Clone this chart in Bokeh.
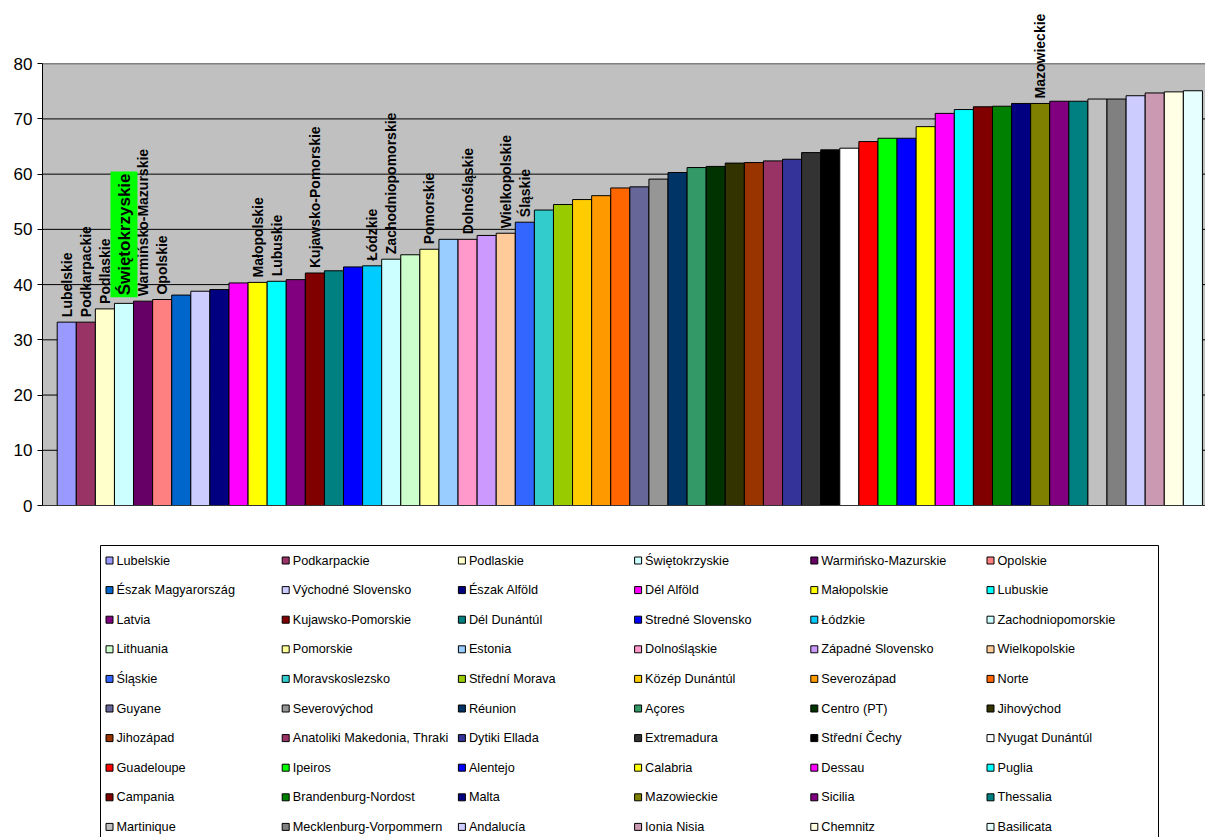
import numpy as np
from bokeh.plotting import figure
from bokeh.models import ColumnDataSource, Range1d, FixedTicker, LabelSet, Label, BoxAnnotation, Span
from bokeh.layouts import column
from bokeh.embed import file_html
from bokeh.resources import INLINE
from bokeh.core.properties import value

regions = [
    "Lubelskie", "Podkarpackie", "Podlaskie", "Świętokrzyskie", "Warmińsko-Mazurskie", "Opolskie",
    "Észak Magyarország", "Východné Slovensko", "Észak Alföld", "Dél Alföld", "Małopolskie", "Lubuskie",
    "Latvia", "Kujawsko-Pomorskie", "Dél Dunántúl", "Stredné Slovensko", "Łódzkie", "Zachodniopomorskie",
    "Lithuania", "Pomorskie", "Estonia", "Dolnośląskie", "Západné Slovensko", "Wielkopolskie",
    "Śląskie", "Moravskoslezsko", "Střední Morava", "Közép Dunántúl", "Severozápad", "Norte",
    "Guyane", "Severovýchod", "Réunion", "Açores", "Centro (PT)", "Jihovýchod",
    "Jihozápad", "Anatoliki Makedonia, Thraki", "Dytiki Ellada", "Extremadura", "Střední Čechy", "Nyugat Dunántúl",
    "Guadeloupe", "Ipeiros", "Alentejo", "Calabria", "Dessau", "Puglia",
    "Campania", "Brandenburg-Nordost", "Malta", "Mazowieckie", "Sicilia", "Thessalia",
    "Martinique", "Mecklenburg-Vorpommern", "Andalucía", "Ionia Nisia", "Chemnitz", "Basilicata",
]

values = [
    33.2, 33.2, 35.6, 36.6, 37.0, 37.3,
    38.1, 38.8, 39.1, 40.3, 40.4, 40.6,
    40.9, 42.1, 42.5, 43.2, 43.4, 44.6,
    45.4, 46.4, 48.2, 48.2, 48.9, 49.3,
    51.3, 53.5, 54.5, 55.4, 56.1, 57.5,
    57.7, 59.1, 60.3, 61.2, 61.4, 62.0,
    62.1, 62.4, 62.7, 63.9, 64.4, 64.7,
    65.9, 66.5, 66.5, 68.6, 71.0, 71.7,
    72.2, 72.3, 72.8, 72.8, 73.2, 73.2,
    73.6, 73.6, 74.2, 74.7, 74.9, 75.1,
]

colors = [
    "#9999FF", "#993366", "#FFFFCC", "#CCFFFF", "#660066", "#FF8080",
    "#0066CC", "#CCCCFF", "#000080", "#FF00FF", "#FFFF00", "#00FFFF",
    "#800080", "#800000", "#008080", "#0000FF", "#00CCFF", "#CCFFFF",
    "#CCFFCC", "#FFFF99", "#99CCFF", "#FF99CC", "#CC99FF", "#FFCC99",
    "#3366FF", "#33CCCC", "#99CC00", "#FFCC00", "#FF9900", "#FF6600",
    "#666699", "#969696", "#003366", "#339966", "#003300", "#333300",
    "#993300", "#993366", "#333399", "#333333", "#000000", "#FFFFFF",
    "#FF0000", "#00FF00", "#0000FF", "#FFFF00", "#FF00FF", "#00FFFF",
    "#800000", "#008000", "#000080", "#808000", "#800080", "#008080",
    "#C0C0C0", "#808080", "#CCCCFF", "#CC99B3", "#FFFFE6", "#E6FFFF",
]

labelled = [
    "Lubelskie", "Podkarpackie", "Podlaskie", "Warmińsko-Mazurskie", "Opolskie",
    "Małopolskie", "Lubuskie", "Kujawsko-Pomorskie", "Łódzkie", "Zachodniopomorskie",
    "Pomorskie", "Dolnośląskie", "Wielkopolskie", "Śląskie", "Mazowieckie",
]
highlight = "Świętokrzyskie"

y_ticks = [0, 10, 20, 30, 40, 50, 60, 70, 80]

FONT = "Liberation Sans"
n = len(regions)
xs = [i + 0.5 for i in range(n)]
y_top = y_ticks[-1]

src = ColumnDataSource(dict(x=xs, v=values, color=colors, name=regions))

p = figure(width=1205, height=535,
           x_range=Range1d(-0.77, n + 0.16), y_range=Range1d(0, 90.9),
           output_backend="svg", toolbar_location=None,
           min_border_left=42, min_border_right=0, min_border_top=3, min_border_bottom=30)
p.background_fill_color = "white"
p.border_fill_color = "white"
p.outline_line_color = None

# grey plot area from 0 up to the top of the value axis
p.add_layout(BoxAnnotation(bottom=0, top=y_top, fill_color="#C0C0C0", fill_alpha=1,
                           line_color=None, level="underlay"))
p.xgrid.visible = False
p.ygrid.visible = False
for t in y_ticks[1:-1]:
    p.add_layout(Span(location=t, dimension="width", line_color="black",
                      line_width=1, level="underlay"))
p.add_layout(Span(location=y_top, dimension="width", line_color="#808080",
                  line_width=1.5, level="underlay"))

p.yaxis.ticker = FixedTicker(ticks=y_ticks)
p.yaxis.bounds = (0, y_top)
p.yaxis.axis_line_color = "black"
p.yaxis.major_tick_line_color = "black"
p.yaxis.major_tick_out = 5
p.yaxis.major_tick_in = 0
p.yaxis.minor_tick_line_color = None
p.yaxis.major_label_text_font = FONT
p.yaxis.major_label_text_font_size = "17px"
p.yaxis.major_label_text_color = "black"
p.yaxis.major_label_standoff = 5

p.xaxis.ticker = FixedTicker(ticks=[])
p.xaxis.axis_line_color = "#333333"
p.xaxis.major_tick_line_color = None
p.xaxis.minor_tick_line_color = None

p.vbar(x="x", top="v", bottom=0, width=1.0, fill_color="color",
       line_color="black", line_width=1, source=src)

lab_idx = [regions.index(r) for r in labelled]
lab_src = ColumnDataSource(dict(x=[xs[i] for i in lab_idx],
                                v=[values[i] for i in lab_idx],
                                name=[regions[i] for i in lab_idx]))
p.add_layout(LabelSet(x="x", y="v", text="name", source=lab_src,
                      angle=np.pi / 2, text_align="left", text_baseline="middle",
                      y_offset=5, text_font=value(FONT), text_font_size="14px",
                      text_font_style="bold", text_color="black"))

hi = regions.index(highlight)
p.add_layout(Label(x=xs[hi], y=values[hi], text=highlight,
                   angle=np.pi / 2, text_align="left", text_baseline="middle",
                   y_offset=6, text_font=FONT, text_font_size="17px",
                   text_font_style="bold", text_color="black",
                   background_fill_color="#00FF00", padding=(2, 4)))

# legend panel (coordinates in page pixels)
q = figure(width=1205, height=302, x_range=Range1d(42, 1205), y_range=Range1d(837, 535),
           output_backend="svg", toolbar_location=None,
           min_border_left=42, min_border_right=0, min_border_top=0, min_border_bottom=0)
q.axis.visible = False
q.grid.visible = False
q.outline_line_color = None
q.background_fill_color = "white"
q.border_fill_color = "white"

q.quad(left=[100], right=[1158], top=[545], bottom=[850],
       fill_color="white", line_color="black", line_width=1)

ncol = 6
sx = [109 + 176.2 * (i % ncol) for i in range(n)]
sy = [560 + 29.6 * (i // ncol) for i in range(n)]
q.rect(x=sx, y=sy, width=7, height=7, fill_color=colors, line_color="black", line_width=1)
q.text(x=[a + 7 for a in sx], y=sy, text=regions, text_font=value(FONT),
       text_font_size="12.7px", text_baseline="middle", text_align="left", text_color="black")

layout = column(p, q, spacing=0)
open("out.html", "w").write(file_html(layout, INLINE))
